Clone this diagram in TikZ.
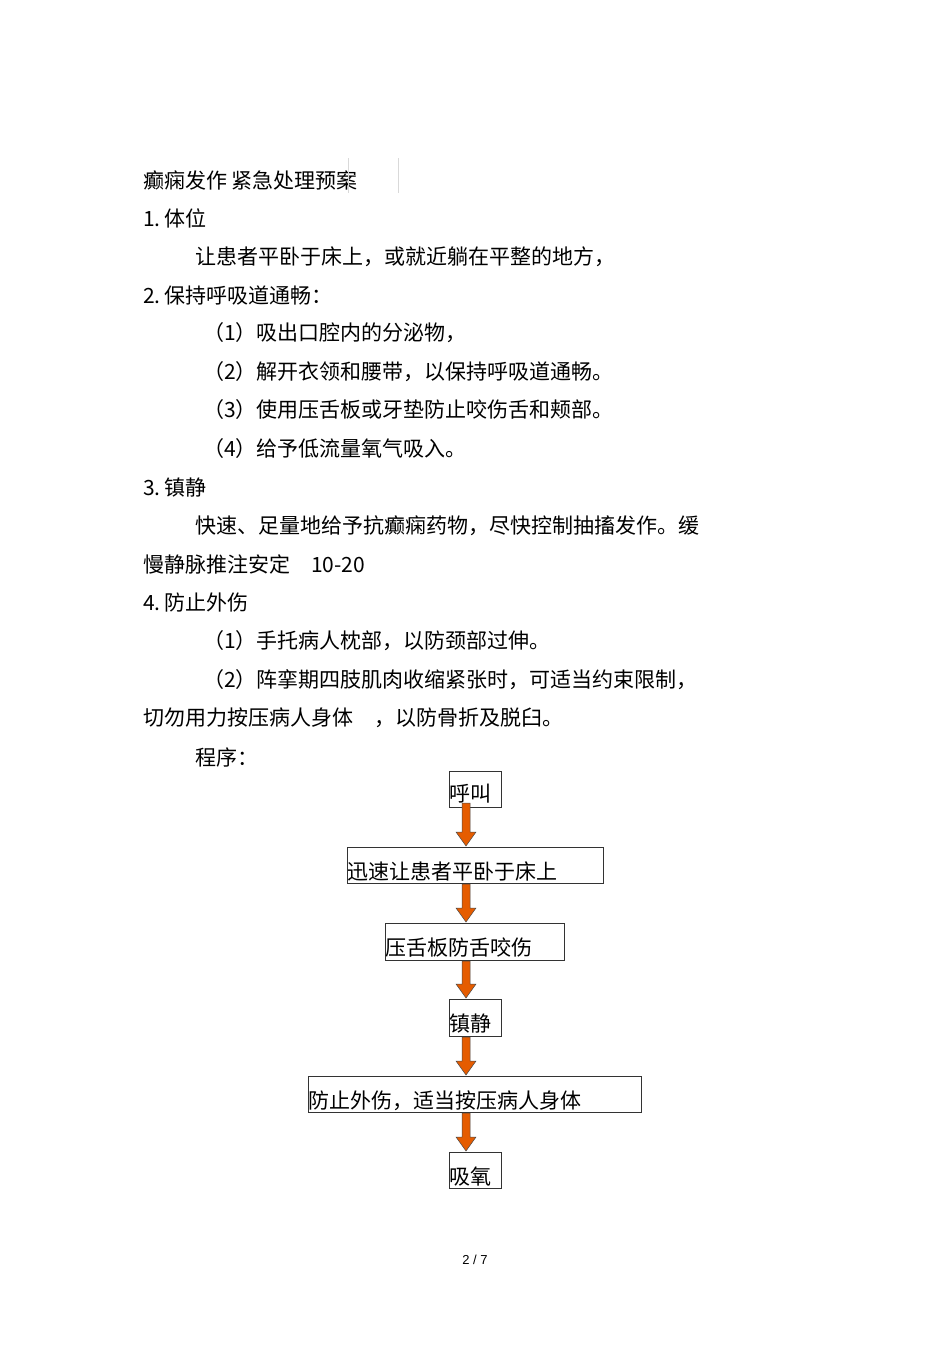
\documentclass[tikz,border=0pt]{standalone}
\usepackage{fontspec}
\setmainfont{Liberation Sans}
\newfontfamily\cjk{Noto Sans CJK SC}
\begin{document}
\begin{tikzpicture}[x=1pt,y=-1pt,
  txt/.style={anchor=west,inner sep=0pt,font=\cjk\fontsize{21}{21}\selectfont},
  fbox/.style={draw=black!80,line width=0.8pt,inner sep=0pt},
  orarr/.style={fill=orange!80!red!90!black,draw=black!70,line width=0.5pt}]
\useasboundingbox[fill=white] (0,0) rectangle (950,1345);
\node[txt] (t0) at (143,180) {癫痫发作\ 紧急处理预案};
\draw[black!15,line width=0.6pt] (348,158) -- (348,193) (398,158) -- (398,193);
\node[txt] (t1) at (143,218) {1.\,体位};
\node[txt] (t2) at (195,257) {让患者平卧于床上，或就近躺在平整的地方，};
\node[txt] (t3) at (143,295) {2.\,保持呼吸道通畅：};
\node[txt] (t4) at (203,333) {（1）吸出口腔内的分泌物，};
\node[txt] (t5) at (203,372) {（2）解开衣领和腰带，以保持呼吸道通畅。};
\node[txt] (t6) at (203,410) {（3）使用压舌板或牙垫防止咬伤舌和颊部。};
\node[txt] (t7) at (203,449) {（4）给予低流量氧气吸入。};
\node[txt] (t8) at (143,488) {3.\,镇静};
\node[txt] (t9) at (195,526) {快速、足量地给予抗癫痫药物，尽快控制抽搐发作。缓};
\node[txt] (t10) at (143,564) {慢静脉推注安定\quad 10-20};
\node[txt] (t11) at (143,603) {4.\,防止外伤};
\node[txt] (t12) at (203,641) {（1）手托病人枕部，以防颈部过伸。};
\node[txt] (t13) at (203,680) {（2）阵挛期四肢肌肉收缩紧张时，可适当约束限制，};
\node[txt] (t14) at (143,718) {切勿用力按压病人身体\quad ，以防骨折及脱臼。};
\node[txt] (t15) at (195,757) {程序：};
% boxes
\draw[fbox] (449,771) rectangle (501,807);
\node[txt] (b1) at (449,794) {呼叫};
\draw[fbox] (347,847) rectangle (603,883);
\node[txt] (b2) at (347,871) {迅速让患者平卧于床上};
\draw[fbox] (385,923) rectangle (564,960);
\node[txt] (b3) at (385,948) {压舌板防舌咬伤};
\draw[fbox] (449,999) rectangle (501,1036);
\node[txt] (b4) at (449,1024) {镇静};
\draw[fbox] (308,1076) rectangle (641,1112);
\node[txt] (b5) at (308,1101) {防止外伤，适当按压病人身体};
\draw[fbox] (449,1152) rectangle (501,1188);
\node[txt] (b6) at (449,1177) {吸氧};
% arrows
\foreach \a/\b in {803/846,884/922,961/998,1037/1075,1113/1151}{
  \draw[orarr] (462,\a) -- (470,\a) -- (470,\b-14) -- (476,\b-14) -- (466,\b) -- (456,\b-14) -- (462,\b-14) -- cycle;
}
\node[inner sep=0pt,font=\fontsize{13}{13}\selectfont] (pg) at (475,1260) {2 / 7};
\end{tikzpicture}
\end{document}
